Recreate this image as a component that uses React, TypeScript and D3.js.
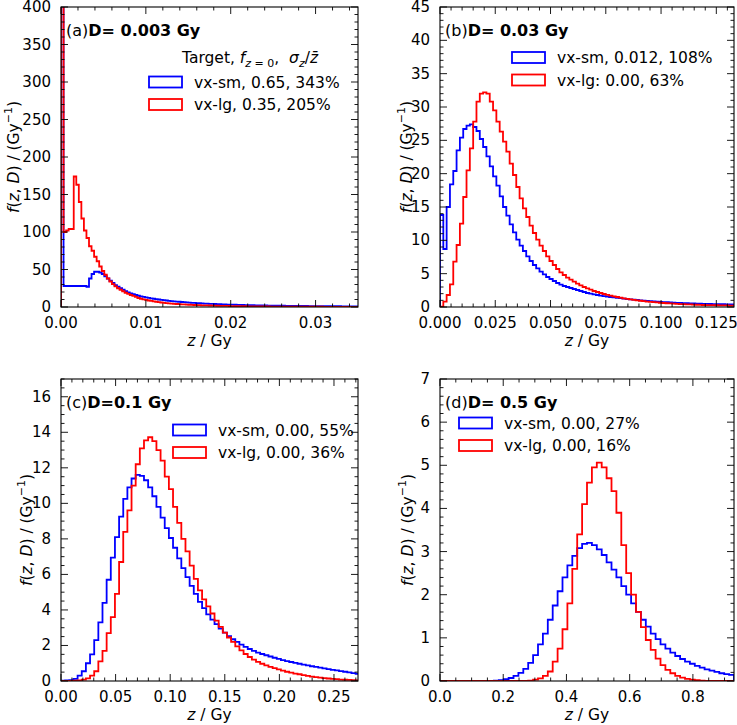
import React from 'react';
import * as d3 from 'd3';

// ---- data ----
// bin widths in Gy
const binA = 0.0003;
const binB = 0.0015;
const binC = 0.0038;
const binD = 0.0155;

// (a) D = 0.003 Gy
const smA = [2167, 28, 28, 28, 28, 28, 28, 28, 28, 28, 27, 38, 44, 47, 47, 46, 44, 41, 38, 35, 32, 29, 27, 25, 23, 21, 19.5, 18, 17, 16, 15, 14.2, 13.5, 12.8, 12.2, 11.6, 11, 10.5, 10, 9.5, 9.1, 8.7, 8.3, 7.9, 7.6, 7.3, 7, 6.7, 6.4, 6.1, 5.9, 5.6, 5.4, 5.2, 5.0, 4.8, 4.6, 4.4, 4.3, 4.1, 4.0, 3.8, 3.7, 3.6, 3.4, 3.3, 3.2, 3.1, 3.0, 2.9, 2.8, 2.7, 2.6, 2.5, 2.45, 2.4, 2.3, 2.2, 2.15, 2.1, 2.0, 1.95, 1.9, 1.85, 1.8, 1.75, 1.7, 1.66, 1.62, 1.58, 1.54, 1.5, 1.46, 1.42, 1.38, 1.35, 1.32, 1.29, 1.26, 1.23, 1.2, 1.17, 1.14, 1.11, 1.08, 1.06, 1.04, 1.02, 1.0, 0.98, 0.96, 0.94, 0.92, 0.9, 0.88, 0.86, 0.84];
const lgA = [1167, 100, 102, 104, 104, 174, 163, 140, 118, 102, 92, 81, 75, 67, 61, 54, 48, 43, 38, 34, 30.5, 27.5, 25, 23, 21, 19, 17.5, 16, 14.8, 13.4, 12.0, 11.0, 10.2, 9.4, 8.7, 8.1, 7.5, 7.0, 6.5, 6.0, 5.6, 5.2, 4.9, 4.6, 4.3, 4.0, 3.8, 3.6, 3.4, 3.2, 3.0, 2.85, 2.7, 2.55, 2.4, 2.3, 2.2, 2.1, 2.0, 1.9, 1.8, 1.7, 1.6, 1.5, 1.45, 1.4, 1.3, 1.25, 1.2, 1.15, 1.1, 1.05, 1.0, 0.95, 0.9, 0.86, 0.82, 0.78, 0.75, 0.72, 0.69, 0.66, 0.63, 0.6, 0.58, 0.56, 0.54, 0.52, 0.5, 0.48, 0.46, 0.44, 0.42, 0.4, 0.39, 0.38, 0.37, 0.36, 0.35, 0.34, 0.33, 0.32, 0.31, 0.3, 0.29, 0.28, 0.27, 0.26, 0.25, 0.24, 0.23, 0.22, 0.21, 0.2, 0.2, 0.19, 0.19];

// (b) D = 0.03 Gy
const smB = [13.8, 8.7, 15.0, 18.4, 20.4, 23.5, 25.4, 26.7, 27.2, 27.4, 27.0, 26.4, 25.2, 24.0, 22.6, 21.1, 19.6, 18.2, 16.6, 15.0, 13.7, 12.4, 11.2, 10.1, 9.2, 8.4, 7.6, 6.9, 6.3, 5.8, 5.3, 4.9, 4.5, 4.2, 3.9, 3.6, 3.35, 3.15, 3.0, 2.85, 2.7, 2.55, 2.4, 2.25, 2.1, 2.0, 1.9, 1.8, 1.72, 1.64, 1.57, 1.5, 1.44, 1.38, 1.32, 1.26, 1.2, 1.15, 1.1, 1.05, 1.0, 0.96, 0.92, 0.88, 0.84, 0.8, 0.77, 0.74, 0.71, 0.68, 0.65, 0.63, 0.61, 0.59, 0.57, 0.55, 0.53, 0.51, 0.49, 0.47, 0.46, 0.45, 0.44, 0.43, 0.42, 0.41, 0.4, 0.39, 0.38, 0.37];
const lgB = [0.05, 0.8, 1.8, 3.4, 6.8, 9.3, 12.5, 16.5, 20.5, 23.8, 27.8, 30.8, 32.0, 32.2, 32.0, 30.8, 29.5, 27.8, 26.3, 24.8, 23.3, 21.5, 19.8, 18.0, 16.3, 14.8, 13.5, 12.2, 11.1, 10.1, 9.2, 8.4, 7.6, 6.9, 6.3, 5.7, 5.2, 4.8, 4.4, 4.1, 3.8, 3.5, 3.25, 3.0, 2.8, 2.6, 2.4, 2.25, 2.1, 1.95, 1.82, 1.7, 1.6, 1.5, 1.4, 1.3, 1.22, 1.14, 1.06, 1.0, 0.94, 0.88, 0.82, 0.77, 0.72, 0.68, 0.64, 0.6, 0.56, 0.53, 0.5, 0.47, 0.44, 0.42, 0.4, 0.38, 0.36, 0.34, 0.32, 0.3, 0.29, 0.28, 0.27, 0.26, 0.25, 0.24, 0.23, 0.22, 0.21, 0.2];

// (c) D = 0.1 Gy
const smC = [0.02, 0.03, 0.05, 0.12, 0.3, 0.55, 1.0, 1.5, 2.3, 3.3, 4.4, 5.7, 6.95, 8.1, 9.25, 10.25, 10.9, 11.4, 11.6, 11.55, 11.3, 10.9, 10.4, 9.8, 9.2, 8.6, 8.05, 7.5, 6.9, 6.35, 5.85, 5.35, 4.9, 4.45, 4.1, 3.75, 3.45, 3.2, 2.95, 2.72, 2.52, 2.35, 2.2, 2.05, 1.92, 1.8, 1.7, 1.6, 1.52, 1.45, 1.38, 1.31, 1.24, 1.18, 1.12, 1.07, 1.02, 0.97, 0.92, 0.88, 0.83, 0.79, 0.75, 0.71, 0.67, 0.63, 0.6, 0.56, 0.52, 0.48, 0.44, 0.4];
const lgC = [0.0, 0.0, 0.01, 0.02, 0.04, 0.08, 0.15, 0.3, 0.55, 1.1, 1.7, 2.7, 3.6, 4.9, 6.7, 8.4, 9.6, 11.0, 12.2, 13.1, 13.55, 13.72, 13.5, 13.0, 12.4, 11.5, 10.8, 9.8, 8.9, 8.0, 7.3, 6.5, 5.75, 5.1, 4.6, 4.2, 3.8, 3.4, 3.05, 2.72, 2.45, 2.2, 1.95, 1.72, 1.52, 1.35, 1.2, 1.08, 0.97, 0.88, 0.8, 0.72, 0.65, 0.58, 0.52, 0.47, 0.42, 0.38, 0.33, 0.29, 0.25, 0.22, 0.19, 0.16, 0.14, 0.12, 0.1, 0.08, 0.07, 0.06, 0.05, 0.04];

// (d) D = 0.5 Gy
const smD = [0, 0, 0, 0, 0, 0, 0, 0, 0, 0, 0.005, 0.01, 0.02, 0.04, 0.07, 0.12, 0.19, 0.28, 0.42, 0.6, 0.85, 1.1, 1.42, 1.75, 2.08, 2.4, 2.68, 2.9, 3.08, 3.18, 3.2, 3.15, 3.05, 2.92, 2.75, 2.58, 2.4, 2.2, 2.0, 1.8, 1.6, 1.42, 1.26, 1.1, 0.97, 0.85, 0.75, 0.66, 0.58, 0.51, 0.45, 0.4, 0.35, 0.31, 0.27, 0.24, 0.21, 0.18, 0.16, 0.14];
const lgD = [0, 0, 0, 0, 0, 0, 0, 0, 0, 0, 0, 0, 0, 0, 0, 0, 0, 0, 0.01, 0.03, 0.06, 0.12, 0.22, 0.45, 0.75, 1.2, 1.8, 2.6, 3.4, 4.1, 4.6, 4.95, 5.06, 4.95, 4.7, 4.4, 3.9, 3.15, 2.5, 2.0, 1.6, 1.25, 0.95, 0.72, 0.52, 0.37, 0.26, 0.18, 0.12, 0.08, 0.05, 0.03, 0.02, 0.01, 0, 0, 0, 0, 0, 0];

const tags = ['(a)', '(b)', '(c)', '(d)'];
const doses = ['D= 0.003 Gy', 'D= 0.03 Gy', 'D=0.1 Gy', 'D= 0.5 Gy'];
const legendA = ['vx-sm, 0.65, 343%', 'vx-lg, 0.35, 205%'];
const legendB = ['vx-sm, 0.012, 108%', 'vx-lg: 0.00, 63%'];
const legendC = ['vx-sm, 0.00, 55%', 'vx-lg, 0.00, 36%'];
const legendD = ['vx-sm, 0.00, 27%', 'vx-lg, 0.00, 16%'];

const BLUE = '#0000ff';
const RED = '#ff0000';
const FONT = '"DejaVu Sans", sans-serif';

interface PanelSpec {
  left: number; right: number; top: number; bottom: number;
  xMax: number; yMax: number;
  xMajor: number; xMinor: number; yMajor: number; yMinor: number;
  xDigits: number;
  tag: string; dose: string;
  bin: number; sm: number[]; lg: number[];
  labels: string[];
  legX: number; legY: number;
  ylabGap: number;
  legendTitle?: boolean;
}

const stepPath = (vals: number[], bin: number, x: d3.ScaleLinear<number, number>, y: d3.ScaleLinear<number, number>) => {
  const pts: [number, number][] = [[0, 0]];
  vals.forEach((v, i) => pts.push([i * bin, v]));
  pts.push([vals.length * bin, vals[vals.length - 1]]);
  pts.push([vals.length * bin, 0]);
  return d3.line<[number, number]>()
    .x(d => x(d[0]))
    .y(d => y(d[1]))
    .curve(d3.curveStepAfter)(pts) || '';
};

const Panel: React.FC<{ p: PanelSpec; id: string }> = ({ p, id }) => {
  const x = d3.scaleLinear().domain([0, p.xMax]).range([p.left, p.right]);
  const y = d3.scaleLinear().domain([0, p.yMax]).range([p.bottom, p.top]);
  const eps = 1e-9;
  const xMaj = d3.range(0, p.xMax + eps, p.xMajor);
  const xMin = d3.range(0, p.xMax + eps, p.xMinor).filter(v => Math.abs(v / p.xMajor - Math.round(v / p.xMajor)) > 1e-6);
  const yMaj = d3.range(0, p.yMax + eps, p.yMajor);
  const yMin = d3.range(0, p.yMax + eps, p.yMinor).filter(v => Math.abs(v / p.yMajor - Math.round(v / p.yMajor)) > 1e-6);
  const fmt = d3.format(`.${p.xDigits}f`);
  const MAJ = 7, MIN = 3.5;
  const cx = (p.left + p.right) / 2;
  const cy = (p.top + p.bottom) / 2;

  return (
    <g fontFamily={FONT}>
      <defs>
        <clipPath id={`clip-${id}`}>
          <rect x={p.left} y={p.top} width={p.right - p.left} height={p.bottom - p.top} />
        </clipPath>
      </defs>
      <g clipPath={`url(#clip-${id})`} fill="none" strokeWidth={1.8}>
        <path d={stepPath(p.sm, p.bin, x, y)} stroke={BLUE} />
        <path d={stepPath(p.lg, p.bin, x, y)} stroke={RED} />
      </g>
      {/* ticks, inward on all four sides */}
      <g stroke="#000" strokeWidth={0.9}>
        {xMaj.map(v => (
          <g key={`xM${v}`}>
            <line x1={x(v)} x2={x(v)} y1={p.bottom} y2={p.bottom - MAJ} />
            <line x1={x(v)} x2={x(v)} y1={p.top} y2={p.top + MAJ} />
          </g>
        ))}
        {xMin.map(v => (
          <g key={`xm${v}`}>
            <line x1={x(v)} x2={x(v)} y1={p.bottom} y2={p.bottom - MIN} />
            <line x1={x(v)} x2={x(v)} y1={p.top} y2={p.top + MIN} />
          </g>
        ))}
        {yMaj.map(v => (
          <g key={`yM${v}`}>
            <line x1={p.left} x2={p.left + MAJ} y1={y(v)} y2={y(v)} />
            <line x1={p.right} x2={p.right - MAJ} y1={y(v)} y2={y(v)} />
          </g>
        ))}
        {yMin.map(v => (
          <g key={`ym${v}`}>
            <line x1={p.left} x2={p.left + MIN} y1={y(v)} y2={y(v)} />
            <line x1={p.right} x2={p.right - MIN} y1={y(v)} y2={y(v)} />
          </g>
        ))}
      </g>
      <rect x={p.left} y={p.top} width={p.right - p.left} height={p.bottom - p.top} fill="none" stroke="#000" strokeWidth={1.1} />
      {/* tick labels */}
      <g fontSize={15} fill="#000">
        {xMaj.map(v => (
          <text key={`xl${v}`} x={x(v)} y={p.bottom + 21} textAnchor="middle">{fmt(v)}</text>
        ))}
        {yMaj.map(v => (
          <text key={`yl${v}`} x={p.left - 10} y={y(v)} textAnchor="end" dominantBaseline="central">{Math.round(v)}</text>
        ))}
      </g>
      {/* axis labels */}
      <text x={cx} y={p.bottom + 39} textAnchor="middle" fontSize={15.5} style={{ whiteSpace: 'pre' }}>
        <tspan fontStyle="italic">z</tspan> / Gy
      </text>
      <text transform={`translate(${p.left - p.ylabGap},${cy}) rotate(-90)`} textAnchor="middle" dominantBaseline="central" fontSize={15.5} style={{ whiteSpace: 'pre' }}>
        <tspan fontStyle="italic">f</tspan>(<tspan fontStyle="italic">z</tspan>, <tspan fontStyle="italic">D</tspan>) / (Gy<tspan dy={-6} fontSize={11}>−1</tspan><tspan dy={6}>)</tspan>
      </text>
      {/* panel title */}
      <text x={p.left + 5} y={p.top + 28.5} fontSize={16}>
        {p.tag}<tspan fontWeight="bold">{p.dose}</tspan>
      </text>
      {/* legend */}
      {p.legendTitle && (
        <text x={p.legX + 33} y={p.legY - 19} fontSize={15.5} style={{ whiteSpace: 'pre' }}>
          Target, <tspan fontStyle="italic">f</tspan><tspan dy={4} fontSize={11}><tspan fontStyle="italic">z</tspan> = 0</tspan><tspan dy={-4}>,  </tspan><tspan fontStyle="italic">σ</tspan><tspan dy={4} fontSize={11} fontStyle="italic">z</tspan><tspan dy={-4}>/</tspan><tspan fontStyle="italic">{'z\u0304'}</tspan>
        </text>
      )}
      {p.labels.map((lab, i) => (
        <g key={lab}>
          <rect x={p.legX} y={p.legY + i * 22.5 - 5.5} width={33} height={11} fill="none" stroke={i === 0 ? BLUE : RED} strokeWidth={1.8} />
          <text x={p.legX + 45} y={p.legY + i * 22.5 + 5.5} fontSize={15.5}>{lab}</text>
        </g>
      ))}
    </g>
  );
};

const panels: PanelSpec[] = [
  { left: 61, right: 358, top: 7, bottom: 307, xMax: 0.035, yMax: 400, xMajor: 0.01, xMinor: 0.002, yMajor: 50, yMinor: 10, xDigits: 2,
    tag: tags[0], dose: doses[0], bin: binA, sm: smA, lg: lgA, labels: legendA, legX: 149, legY: 82, ylabGap: 47, legendTitle: true },
  { left: 440, right: 734, top: 7, bottom: 307, xMax: 0.133, yMax: 45, xMajor: 0.025, xMinor: 0.005, yMajor: 5, yMinor: 1, xDigits: 3,
    tag: tags[1], dose: doses[1], bin: binB, sm: smB, lg: lgB, labels: legendB, legX: 512, legY: 57.5, ylabGap: 33 },
  { left: 61, right: 358, top: 379, bottom: 681, xMax: 0.272, yMax: 17, xMajor: 0.05, xMinor: 0.01, yMajor: 2, yMinor: 0.5, xDigits: 2,
    tag: tags[2], dose: doses[2], bin: binC, sm: smC, lg: lgC, labels: legendC, legX: 173, legY: 430, ylabGap: 34 },
  { left: 440, right: 734, top: 379, bottom: 681, xMax: 0.93, yMax: 7, xMajor: 0.2, xMinor: 0.05, yMajor: 1, yMinor: 0.2, xDigits: 1,
    tag: tags[3], dose: doses[3], bin: binD, sm: smD, lg: lgD, labels: legendD, legX: 459, legY: 423, ylabGap: 32 },
];

export default function App() {
  return (
    <div style={{ position: 'absolute', left: 0, top: 0, width: 737, height: 725, background: '#fff' }}>
      <svg width={737} height={725} style={{ display: 'block' }}>
        <rect width={737} height={725} fill="#fff" />
        {panels.map((p, i) => <Panel key={i} p={p} id={`p${i}`} />)}
      </svg>
    </div>
  );
}
